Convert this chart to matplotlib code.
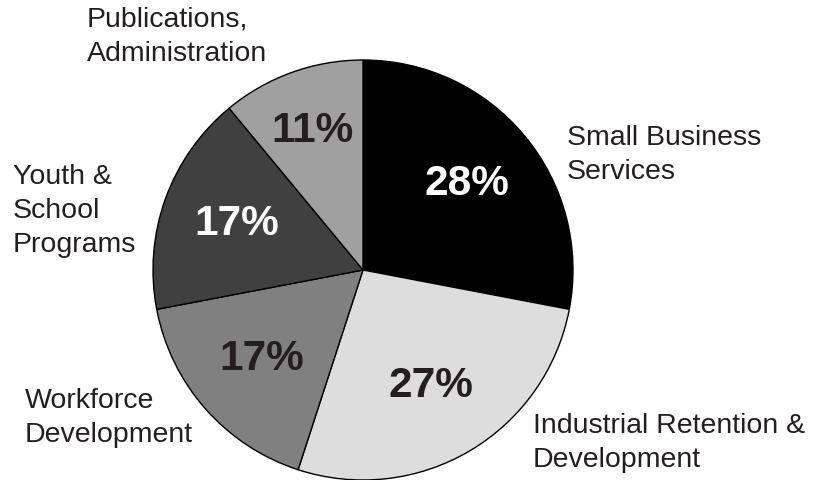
import matplotlib
matplotlib.use("Agg")
import matplotlib.pyplot as plt

plt.rcParams["font.family"] = ["Liberation Sans", "DejaVu Sans"]

categories = [
    "Small Business\nServices",
    "Industrial Retention &\nDevelopment",
    "Workforce\nDevelopment",
    "Youth &\nSchool\nPrograms",
    "Publications,\nAdministration",
]
shares = [28, 27, 17, 17, 11]
colors = ["#000000", "#dddddd", "#808080", "#404040", "#a0a0a0"]
pct_colors = ["white", "#231f20", "#231f20", "white", "#231f20"]

# label anchor (left x, centre y of text block) in pixel coords, y from top
label_pos = [(567, 155), (533, 443), (25, 418), (13, 211), (87, 37)]

W, H = 813, 480
fig = plt.figure(figsize=(W / 100, H / 100), dpi=100)
ax = fig.add_axes([0, 0, 1, 1])

cx, cy, r = 363, H - 270, 210
wedges, texts, autotexts = ax.pie(
    shares,
    colors=colors,
    startangle=90,
    counterclock=False,
    center=(cx, cy),
    radius=r,
    autopct=lambda p: f"{p:.0f}%",
    pctdistance=0.64,
    wedgeprops=dict(edgecolor="black", linewidth=1),
    textprops=dict(fontsize=30.5, fontweight="bold"),
    frame=True,
)
ax.set_xlim(0, W)
ax.set_ylim(0, H)
ax.set_aspect("equal")
ax.axis("off")

for t, c in zip(autotexts, pct_colors):
    t.set_color(c)
# small slice label sits a bit further out
x, y = autotexts[4].get_position()
autotexts[4].set_position((cx + (x - cx) * 1.1, cy + (y - cy) * 1.1))

for lab, (lx, ly) in zip(categories, label_pos):
    ax.text(lx, H - ly, lab, ha="left", va="center", fontsize=20.5,
            color="#231f20", linespacing=1.42)

fig.savefig("out.png", dpi=100)
